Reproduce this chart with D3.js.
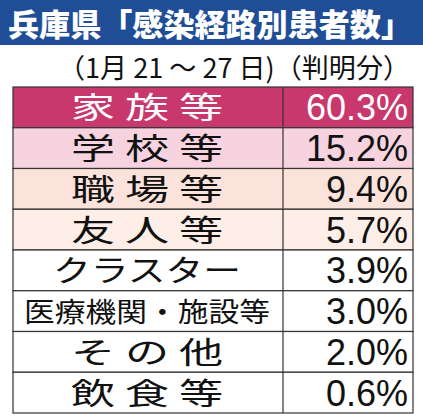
<!DOCTYPE html><html><head><meta charset="utf-8"><script src="https://cdn.jsdelivr.net/npm/d3@7"></script>
<style>body{margin:0;background:#fff}</style></head><body><svg id="c" width="423" height="418"></svg>
<script>
const categories=["家 族 等","学 校 等","職 場 等","友 人 等","クラスター","医療機関・施設等","そ の 他","飲 食 等"];
const values=[60.3,15.2,9.4,5.7,3.9,3.0,2.0,0.6];
const rowColors=["#c8386c","#f6d3df","#fbe3dc","#fdeee7","#fff","#fff","#fff","#fff"];
const svg=d3.select("#c");
const F="'Noto Sans CJK JP',sans-serif";
svg.append("rect").attr("x",0).attr("y",0).attr("width",423).attr("height",45).attr("fill","#1f4e96");
svg.append("text").attr("x",8).attr("y",36).attr("font-family",F).attr("font-weight",900).attr("font-size",31).attr("fill","#fff").attr("textLength",404).attr("lengthAdjust","spacingAndGlyphs").text("兵庫県「感染経路別患者数」");
svg.append("text").attr("x",58).attr("y",78).attr("font-family",F).attr("font-size",27).attr("fill","#111").attr("textLength",352).attr("lengthAdjust","spacingAndGlyphs").text("（1月 21 ～ 27 日)（判明分）");
const y=d3.scaleBand().domain(d3.range(categories.length)).range([87,413]);
const x0=13,xd=283,x1=413;
const lw=d=>d.includes(" ")?152:(d.length>6?246:188);
const g=svg.append("g").selectAll("g").data(categories).join("g");
g.append("rect").attr("x",x0).attr("y",(d,i)=>y(i)).attr("width",x1-x0).attr("height",y.bandwidth()).attr("fill",(d,i)=>rowColors[i]).attr("stroke","#333").attr("stroke-width",1.2);
g.append("line").attr("x1",xd).attr("x2",xd).attr("y1",(d,i)=>y(i)).attr("y2",(d,i)=>y(i)+y.bandwidth()).attr("stroke","#333").attr("stroke-width",1.2);
g.append("text").attr("x",d=>147-lw(d)/2).attr("y",(d,i)=>y(i)+y.bandwidth()/2+11).attr("font-family",F).attr("font-size",d=>d.length>6?27:30).attr("textLength",lw).attr("lengthAdjust","spacingAndGlyphs").attr("fill",(d,i)=>i==0?"#fff":"#111").text(d=>d);
g.append("text").attr("x",408).attr("y",(d,i)=>y(i)+y.bandwidth()/2+13).attr("text-anchor","end").attr("font-family","'Liberation Sans',sans-serif").attr("font-size",36).attr("fill",(d,i)=>i==0?"#fff":"#111").text((d,i)=>values[i].toFixed(1)+"%");
</script></body></html>
